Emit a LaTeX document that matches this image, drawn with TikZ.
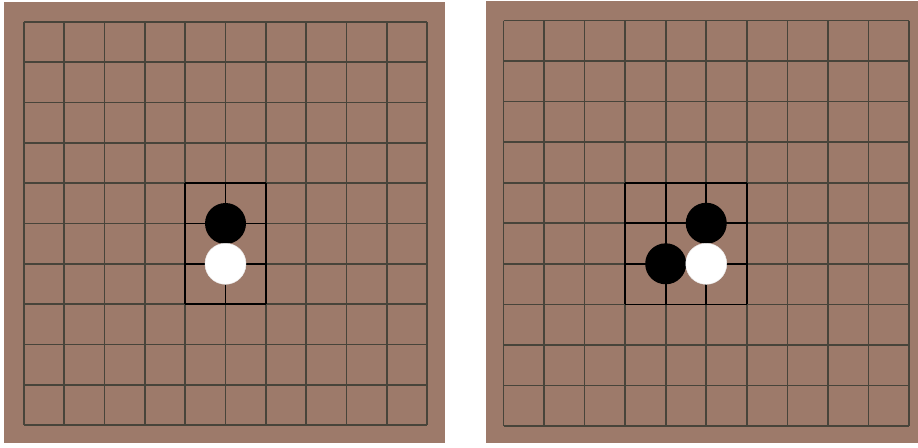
\documentclass[tikz,border=0pt]{standalone}
\definecolor{board}{RGB}{157,122,106}
\definecolor{gridc}{RGB}{72,68,58}
\tikzset{
  boardbg/.style={fill=board,draw=none},
  gridline/.style={draw=gridc,line width=1.7pt},
  boxline/.style={draw=black,line width=1.7pt},
  blackstone/.style={circle,fill=black,inner sep=0pt,minimum size=41pt},
  whitestone/.style={circle,fill=white,draw=white!85!gray,line width=0.5pt,inner sep=0pt,minimum size=41pt},
}
\begin{document}
\begin{tikzpicture}[x=1pt,y=-1pt]
\useasboundingbox (0,0) rectangle (918,447);
% left board
\fill[boardbg] (4,2) rectangle (445,443);
\begin{scope}[shift={(24,22)}]
  \def\s{40.3}
  \foreach \i in {0,...,10} {
    \draw[gridline] (\i*\s,0) -- (\i*\s,10*\s);
    \draw[gridline] (0,\i*\s) -- (10*\s,\i*\s);
  }
  \foreach \i in {4,5,6} \draw[boxline] (\i*\s,4*\s) -- (\i*\s,7*\s);
  \foreach \j in {4,...,7} \draw[boxline] (4*\s,\j*\s) -- (6*\s,\j*\s);
  \node[blackstone] (lb1) at (5*\s,5*\s) {};
  \node[whitestone] (lw1) at (5*\s,6*\s) {};
\end{scope}
% right board
\fill[boardbg] (486,1) rectangle (918,443);
\begin{scope}[shift={(503.5,20.5)}]
  \def\s{40.55}
  \foreach \i in {0,...,10} {
    \draw[gridline] (\i*\s,0) -- (\i*\s,10*\s);
    \draw[gridline] (0,\i*\s) -- (10*\s,\i*\s);
  }
  \foreach \i in {3,...,6} \draw[boxline] (\i*\s,4*\s) -- (\i*\s,7*\s);
  \foreach \j in {4,...,7} \draw[boxline] (3*\s,\j*\s) -- (6*\s,\j*\s);
  \node[blackstone] (rb1) at (5*\s,5*\s) {};
  \node[blackstone] (rb2) at (4*\s,6*\s) {};
  \node[whitestone] (rw1) at (5*\s,6*\s) {};
\end{scope}
\end{tikzpicture}
\end{document}
